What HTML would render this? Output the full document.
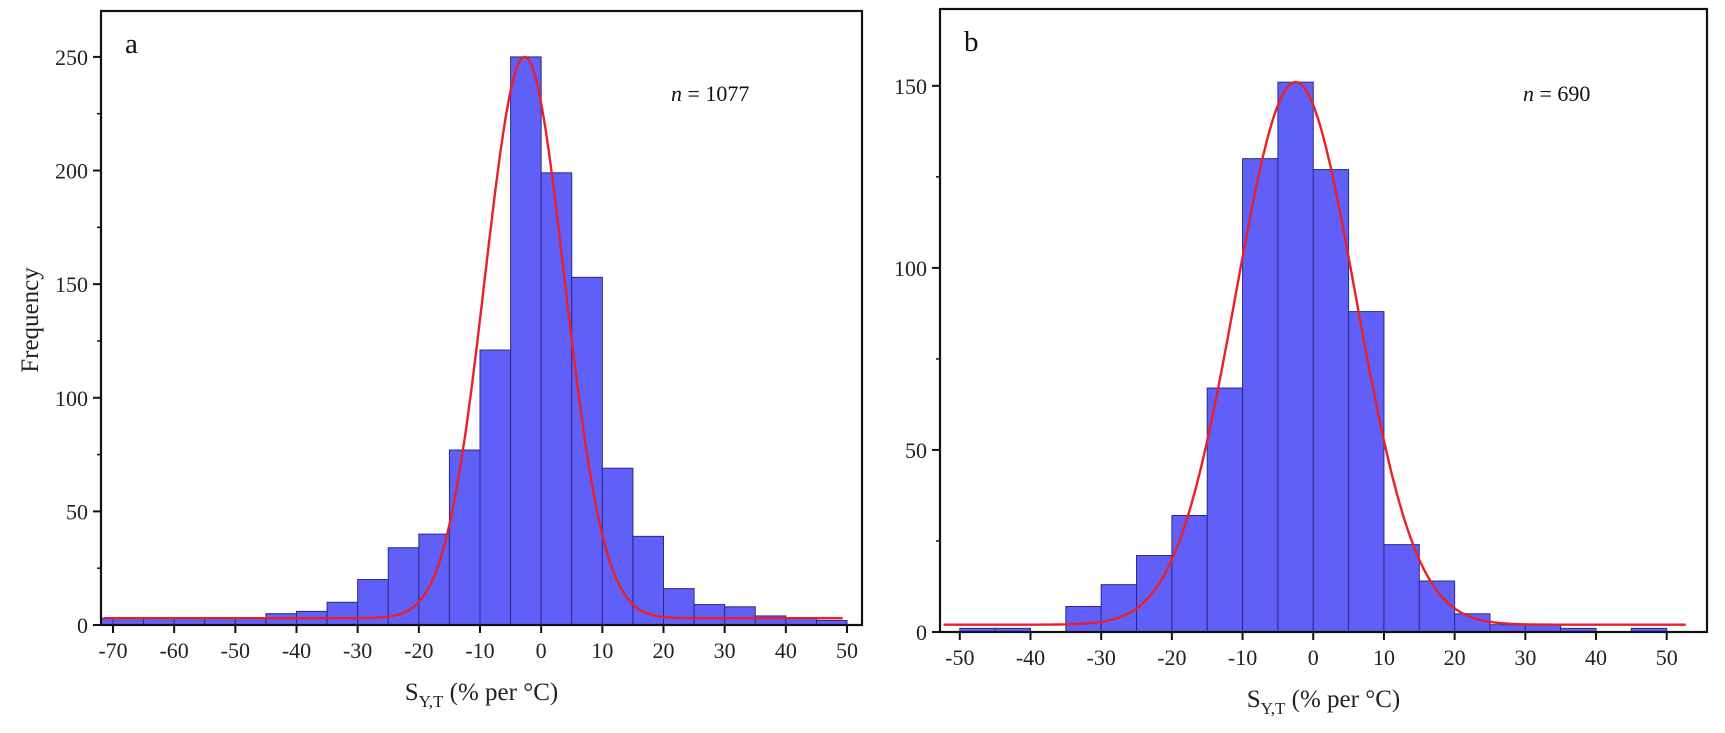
<!DOCTYPE html>
<html><head><meta charset="utf-8"><style>
html,body{margin:0;padding:0;background:#fff;}
svg{display:block;font-family:"Liberation Serif",serif;}
</style></head><body>
<svg id="chart" width="1725" height="733" viewBox="0 0 1725 733"></svg>
<script>
// Panel a data
const binsA = [-75,-70,-65,-60,-55,-50,-45,-40,-35,-30,-25,-20,-15,-10,-5,0,5,10,15,20,25,30,35,40,45];
const countsA = [3,3,3,3,3,3,5,6,10,20,34,40,77,121,250,199,153,69,39,16,9,8,4,3,2];
const xTicksA = [-70,-60,-50,-40,-30,-20,-10,0,10,20,30,40,50];
const yTicksA = [0,50,100,150,200,250];
const fitA = [3, 247, -2.7, 6.5]; // y0, amplitude, center, sigma
// Panel b data
const binsB = [-55,-50,-45,-40,-35,-30,-25,-20,-15,-10,-5,0,5,10,15,20,25,30,35,40,45];
const countsB = [0,1,1,0,7,13,21,32,67,130,151,127,88,24,14,5,2,2,1,0,1];
const xTicksB = [-50,-40,-30,-20,-10,0,10,20,30,40,50];
const yTicksB = [0,50,100,150];
const fitB = [2, 149, -2.5, 8.5];

const svg = document.getElementById('chart');
const NS = 'http://www.w3.org/2000/svg';
function mk(tag, attrs, parent){const e=document.createElementNS(NS,tag);for(const k in attrs)e.setAttribute(k,attrs[k]);(parent||svg).appendChild(e);return e;}

function panel(cfg){
  const {id,L,R,T,B,xmin,xmax,ymin,ymax,bins,counts,xt,yt,fit,letter,nText,nx,ny} = cfg;
  const g = mk('g',{});
  
  
  const sx=v=>L+(v-xmin)/(xmax-xmin)*(R-L);
  const sy=v=>B-(v-ymin)/(ymax-ymin)*(B-T);
  const clip = mk('clipPath',{id:'clip'+id},g);
  mk('rect',{x:L,y:T,width:R-L,height:B-T},clip);
  const bars = mk('g',{'clip-path':'url(#clip'+id+')'},g);
  
  
  for(let i=0;i<bins.length;i++){
    if(!counts[i]) continue;
    const x0=sx(bins[i]), x1=sx(bins[i]+5);
    const r=mk('rect',{x:x0,y:sy(counts[i]),width:x1-x0,height:sy(0)-sy(counts[i]),fill:'#6060f8',stroke:'#2a2a88','stroke-width':1},bars);
    
    
  }
  let d='';
  for(let v=xmin+0.5; v<=xmax-3; v+=0.25){
    const y=fit[0]+fit[1]*Math.exp(-Math.pow(v-fit[2],2)/(2*fit[3]*fit[3]));
    d+=(d?'L':'M')+sx(v).toFixed(1)+','+sy(y).toFixed(1);
  }
  const c=mk('path',{d:d,fill:'none',stroke:'#e8202a','stroke-width':2.4},g);
  
  
  const f=mk('rect',{x:L,y:T,width:R-L,height:B-T,fill:'none',stroke:'#111','stroke-width':2.2},g);
  
  
  xt.forEach(v=>{
    mk('line',{x1:sx(v),x2:sx(v),y1:B,y2:B+8,stroke:'#111','stroke-width':2},g);
    const t=mk('text',{x:sx(v),y:B+33,'text-anchor':'middle','font-size':22,fill:'#222'},g);
    t.textContent=v;
    
    
  });
  yt.forEach((v,i)=>{
    mk('line',{x1:L-8,x2:L,y1:sy(v),y2:sy(v),stroke:'#111','stroke-width':2},g);
    if(sy(v+25)>T) mk('line',{x1:L-4,x2:L,y1:sy(v+25),y2:sy(v+25),stroke:'#111','stroke-width':1.5},g);
    const t=mk('text',{x:L-13,y:sy(v)+8,'text-anchor':'end','font-size':22,fill:'#222'},g);
    t.textContent=v;
    
    
  });
  const lt=mk('text',{x:L+24,y:T+42,'font-size':29,fill:'#111'},g);
  lt.textContent=letter;
  
  
  const nt=mk('text',{x:nx,y:ny,'font-size':22,fill:'#111'},g);
  nt.innerHTML='<tspan font-style="italic">n</tspan> = '+nText;
  
  
  const xl=mk('text',{x:(L+R)/2,y:B+75,'text-anchor':'middle','font-size':25,fill:'#222'},g);
  xl.innerHTML='S<tspan font-size="17" dy="7">Y,T</tspan><tspan dy="-7"> (% per °C)</tspan>';
  
  
}
panel({id:'a',L:101,R:862,T:11,B:625,xmin:-71.96,xmax:52.45,ymin:0,ymax:270.2,bins:binsA,counts:countsA,xt:xTicksA,yt:yTicksA,fit:fitA,letter:'a',nText:'1077',nx:671,ny:101});
panel({id:'b',L:940,R:1707,T:9,B:632,xmin:-52.8,xmax:55.7,ymin:0,ymax:171.1,bins:binsB,counts:countsB,xt:xTicksB,yt:yTicksB,fit:fitB,letter:'b',nText:'690',nx:1523,ny:101});
const yl=mk('text',{x:0,y:0,'text-anchor':'middle','font-size':25,fill:'#222',transform:'translate(38,320) rotate(-90)'});
yl.textContent='Frequency';


</script>
</body></html>
